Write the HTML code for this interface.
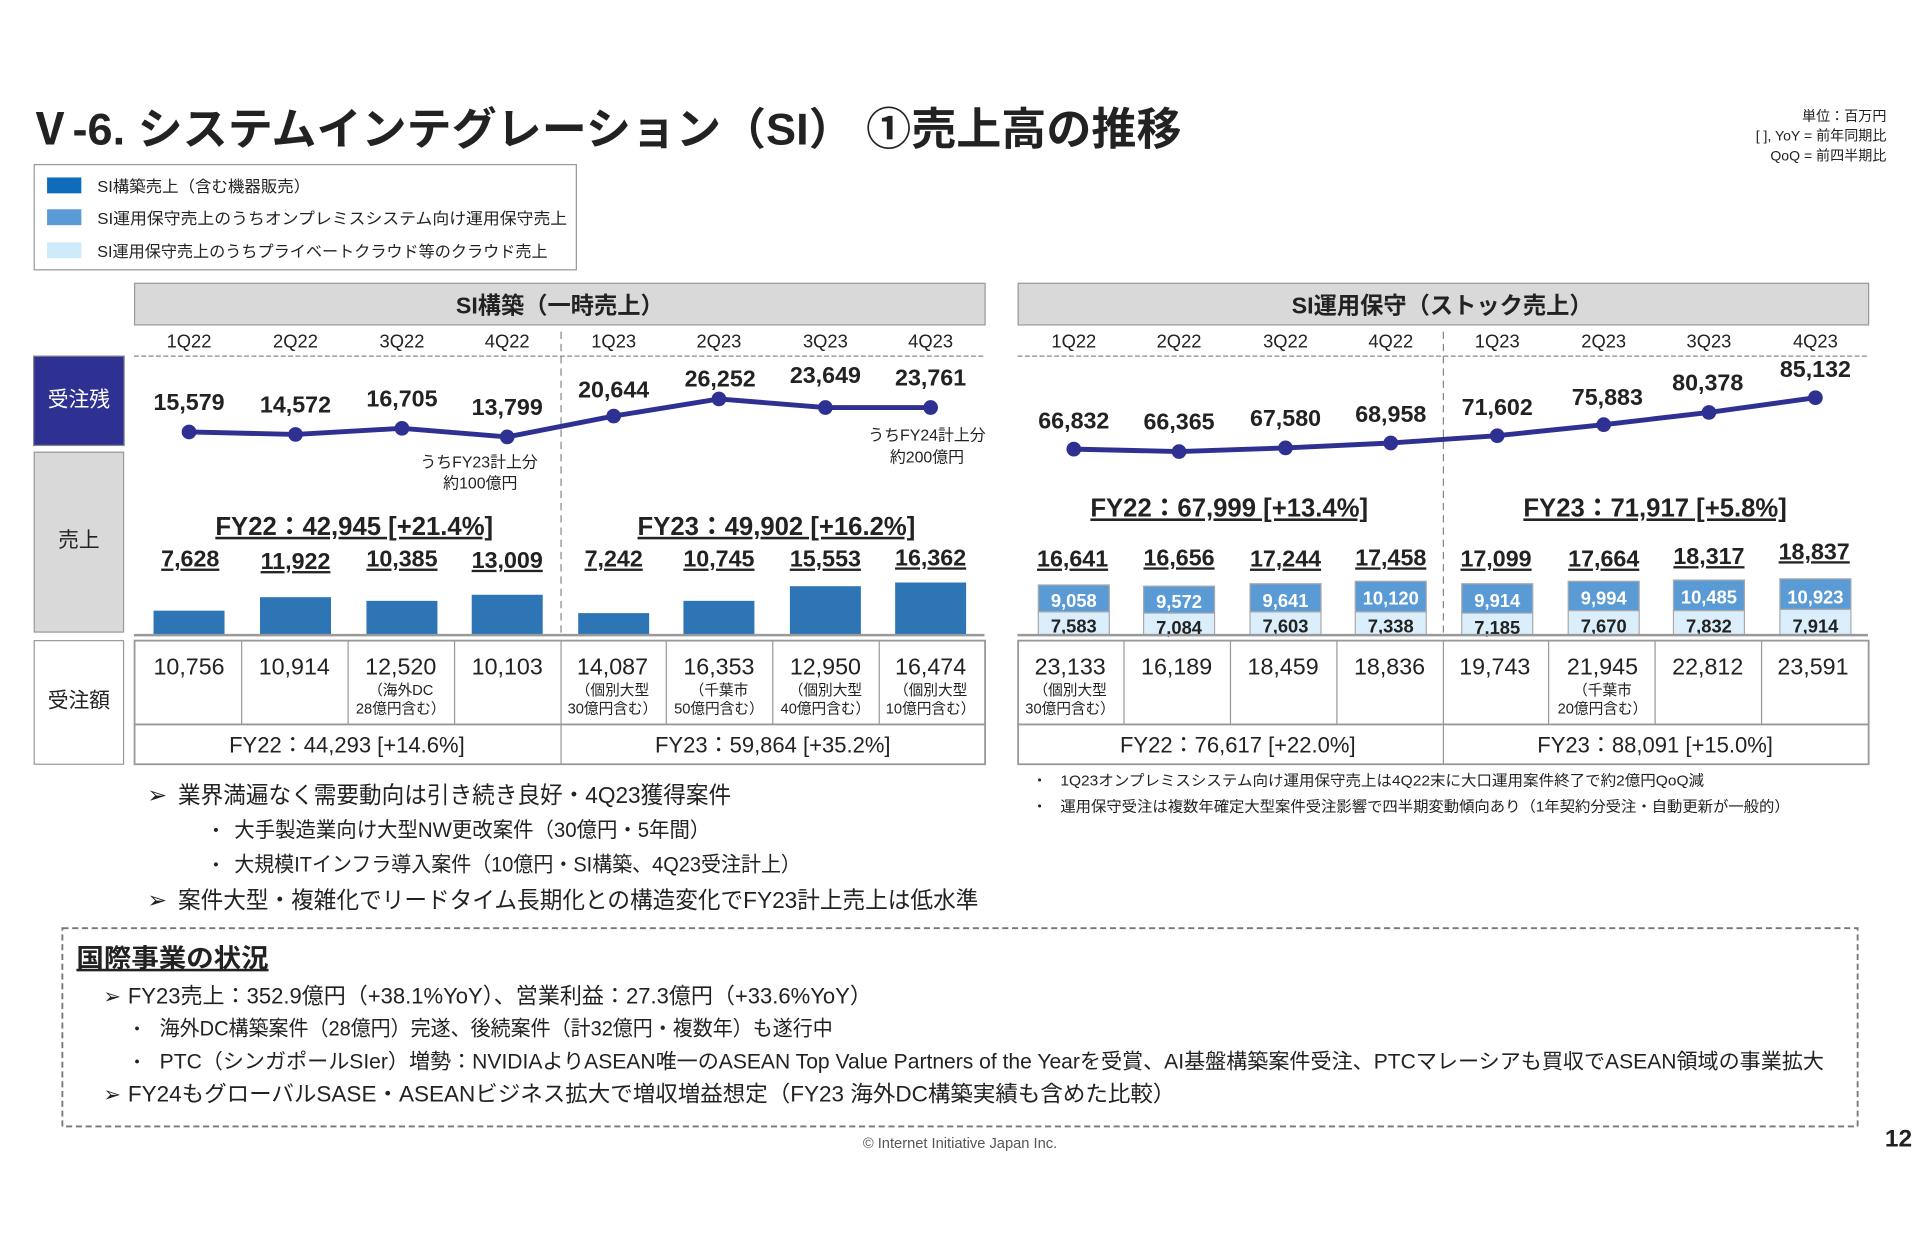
<!DOCTYPE html>
<html><head><meta charset="utf-8"><style>
html,body{margin:0;padding:0;background:#fff;}
svg{display:block;}
text{font-family:"Liberation Sans","Noto Sans CJK JP",sans-serif;fill:#222;}
.b{font-weight:bold;}
.c{text-anchor:middle;}
.r{text-anchor:end;}
</style></head><body>
<svg width="1920" height="1236" viewBox="0 0 1568 1010" xmlns="http://www.w3.org/2000/svg">
<rect width="1568" height="1010" fill="#fff"/>
<!-- title -->
<text x="22" y="118" font-size="36" class="b" textLength="943" lengthAdjust="spacingAndGlyphs">Ⅴ‑6.  システムインテグレーション（SI） ①売上高の推移</text>
<text x="1541" y="99" font-size="11.5" class="r">単位：百万円</text>
<text x="1541" y="115" font-size="11.5" class="r">[ ], YoY = 前年同期比</text>
<text x="1541" y="131" font-size="11.5" class="r">QoQ = 前四半期比</text>
<!-- legend -->
<rect x="27.5" y="134.5" width="443" height="86" fill="#fff" stroke="#999"/>
<rect x="38" y="145" width="28" height="13" fill="#0f6cbd"/>
<rect x="38" y="171" width="28" height="13" fill="#5b9bd5"/>
<rect x="38" y="198" width="28" height="13" fill="#cfeafb"/>
<text x="79" y="157" font-size="13" textLength="174" lengthAdjust="spacingAndGlyphs">SI構築売上（含む機器販売）</text>
<text x="79" y="183" font-size="13" textLength="384" lengthAdjust="spacingAndGlyphs">SI運用保守売上のうちオンプレミスシステム向け運用保守売上</text>
<text x="79" y="210" font-size="13" textLength="368" lengthAdjust="spacingAndGlyphs">SI運用保守売上のうちプライベートクラウド等のクラウド売上</text>
<!-- side labels -->
<rect x="27" y="291" width="74" height="73" fill="#2e3192" stroke="#888"/>
<text x="64" y="332" font-size="17" class="c" style="fill:#fff">受注残</text>
<rect x="27.5" y="369.5" width="73" height="147" fill="#d9d9d9" stroke="#999"/>
<text x="64" y="447" font-size="17" class="c">売上</text>
<rect x="27.5" y="523.5" width="73" height="101" fill="#fff" stroke="#999"/>
<text x="64" y="578" font-size="17" class="c">受注額</text>

<!-- LEFT PANEL -->
<rect x="109.5" y="231.5" width="695" height="34" fill="#d9d9d9" stroke="#999"/>
<text x="457" y="256" font-size="19" class="c b">SI構築（一時売上）</text>
<g font-size="15" class="c">
<text x="154" y="284" class="c">1Q22</text><text x="241" y="284" class="c">2Q22</text><text x="328" y="284" class="c">3Q22</text><text x="414" y="284" class="c">4Q22</text>
<text x="501" y="284" class="c">1Q23</text><text x="587" y="284" class="c">2Q23</text><text x="674" y="284" class="c">3Q23</text><text x="760" y="284" class="c">4Q23</text>
</g>
<line x1="109" y1="291" x2="804" y2="291" stroke="#888" stroke-dasharray="4,2"/>
<line x1="458" y1="271" x2="458" y2="520" stroke="#888" stroke-dasharray="6,4"/>
<polyline points="154,353 241,355 328,350 414,357 501,340 587,326 674,333 760,333" fill="none" stroke="#2e3192" stroke-width="4"/>
<g fill="#2e3192"><circle cx="154" cy="353" r="6"/><circle cx="241" cy="355" r="6"/><circle cx="328" cy="350" r="6"/><circle cx="414" cy="357" r="6"/><circle cx="501" cy="340" r="6"/><circle cx="587" cy="326" r="6"/><circle cx="674" cy="333" r="6"/><circle cx="760" cy="333" r="6"/></g>
<g font-size="19" class="b">
<text x="154" y="335" class="c b">15,579</text><text x="241" y="337" class="c b">14,572</text><text x="328" y="332" class="c b">16,705</text><text x="414" y="339" class="c b">13,799</text>
<text x="501" y="325" class="c b">20,644</text><text x="588" y="316" class="c b">26,252</text><text x="674" y="313" class="c b">23,649</text><text x="760" y="315" class="c b">23,761</text>
</g>
<text x="391" y="382" font-size="13" class="c">うちFY23計上分</text>
<text x="392" y="399" font-size="13" class="c">約100億円</text>
<text x="757" y="360" font-size="13" class="c">うちFY24計上分</text>
<text x="757" y="378" font-size="13" class="c">約200億円</text>
<text x="289" y="437" font-size="21" class="c b" text-decoration="underline">FY22：42,945 [+21.4%]</text>
<text x="634" y="437" font-size="21" class="c b" text-decoration="underline">FY23：49,902 [+16.2%]</text>
<g font-size="19">
<text x="155" y="463" class="c b" text-decoration="underline">7,628</text><text x="241" y="465" class="c b" text-decoration="underline">11,922</text><text x="328" y="463" class="c b" text-decoration="underline">10,385</text><text x="414" y="464" class="c b" text-decoration="underline">13,009</text>
<text x="501" y="463" class="c b" text-decoration="underline">7,242</text><text x="587" y="463" class="c b" text-decoration="underline">10,745</text><text x="674" y="463" class="c b" text-decoration="underline">15,553</text><text x="760" y="462" class="c b" text-decoration="underline">16,362</text>
</g>
<g fill="#2e75b6">
<rect x="125" y="499" width="58" height="20"/><rect x="212" y="488" width="58" height="31"/><rect x="299" y="491" width="58" height="28"/><rect x="385" y="486" width="58" height="33"/>
<rect x="472" y="501" width="58" height="18"/><rect x="558" y="491" width="58" height="28"/><rect x="645" y="479" width="58" height="40"/><rect x="731" y="476" width="58" height="43"/>
</g>
<line x1="109" y1="519" x2="804" y2="519" stroke="#999" stroke-width="2"/>
<!-- left table -->
<rect x="109.5" y="523.5" width="695" height="101" fill="none" stroke="#999" stroke-width="1.5"/>
<line x1="109" y1="592" x2="804" y2="592" stroke="#999" stroke-width="1.5"/>
<g stroke="#999"><line x1="197" y1="523" x2="197" y2="592"/><line x1="284" y1="523" x2="284" y2="592"/><line x1="371" y1="523" x2="371" y2="592"/><line x1="458" y1="523" x2="458" y2="625"/><line x1="544" y1="523" x2="544" y2="592"/><line x1="631" y1="523" x2="631" y2="592"/><line x1="718" y1="523" x2="718" y2="592"/></g>
<g font-size="19">
<text x="154" y="551" class="c">10,756</text><text x="240" y="551" class="c">10,914</text><text x="327" y="551" class="c">12,520</text><text x="414" y="551" class="c">10,103</text>
<text x="500" y="551" class="c">14,087</text><text x="587" y="551" class="c">16,353</text><text x="674" y="551" class="c">12,950</text><text x="760" y="551" class="c">16,474</text>
</g>
<g font-size="12">
<text x="327" y="568" class="c">（海外DC</text><text x="327" y="583" class="c">28億円含む）</text>
<text x="500" y="568" class="c">（個別大型</text><text x="500" y="583" class="c">30億円含む）</text>
<text x="587" y="568" class="c">（千葉市</text><text x="587" y="583" class="c">50億円含む）</text>
<text x="674" y="568" class="c">（個別大型</text><text x="674" y="583" class="c">40億円含む）</text>
<text x="760" y="568" class="c">（個別大型</text><text x="760" y="583" class="c">10億円含む）</text>
</g>
<text x="283" y="615" font-size="18" class="c">FY22：44,293 [+14.6%]</text>
<text x="631" y="615" font-size="18" class="c">FY23：59,864 [+35.2%]</text>

<!-- RIGHT PANEL -->
<rect x="831.5" y="231.5" width="695" height="34" fill="#d9d9d9" stroke="#999"/>
<text x="1178" y="256" font-size="19" class="c b">SI運用保守（ストック売上）</text>
<g font-size="15">
<text x="877" y="284" class="c">1Q22</text><text x="963" y="284" class="c">2Q22</text><text x="1050" y="284" class="c">3Q22</text><text x="1136" y="284" class="c">4Q22</text>
<text x="1223" y="284" class="c">1Q23</text><text x="1310" y="284" class="c">2Q23</text><text x="1396" y="284" class="c">3Q23</text><text x="1483" y="284" class="c">4Q23</text>
</g>
<line x1="831" y1="291" x2="1526" y2="291" stroke="#888" stroke-dasharray="4,2"/>
<line x1="1179" y1="271" x2="1179" y2="520" stroke="#888" stroke-dasharray="6,4"/>
<polyline points="877,367 963,369 1050,366 1136,362 1223,356 1310,347 1396,337 1483,325" fill="none" stroke="#2e3192" stroke-width="4"/>
<g fill="#2e3192"><circle cx="877" cy="367" r="6"/><circle cx="963" cy="369" r="6"/><circle cx="1050" cy="366" r="6"/><circle cx="1136" cy="362" r="6"/><circle cx="1223" cy="356" r="6"/><circle cx="1310" cy="347" r="6"/><circle cx="1396" cy="337" r="6"/><circle cx="1483" cy="325" r="6"/></g>
<g font-size="19">
<text x="877" y="350" class="c b">66,832</text><text x="963" y="351" class="c b">66,365</text><text x="1050" y="348" class="c b">67,580</text><text x="1136" y="345" class="c b">68,958</text>
<text x="1223" y="339" class="c b">71,602</text><text x="1313" y="331" class="c b">75,883</text><text x="1395" y="319" class="c b">80,378</text><text x="1483" y="308" class="c b">85,132</text>
</g>
<text x="1004" y="422" font-size="21" class="c b" text-decoration="underline">FY22：67,999 [+13.4%]</text>
<text x="1352" y="422" font-size="21" class="c b" text-decoration="underline">FY23：71,917 [+5.8%]</text>
<g font-size="19">
<text x="876" y="463" class="c b" text-decoration="underline">16,641</text><text x="963" y="462" class="c b" text-decoration="underline">16,656</text><text x="1050" y="463" class="c b" text-decoration="underline">17,244</text><text x="1136" y="462" class="c b" text-decoration="underline">17,458</text>
<text x="1222" y="463" class="c b" text-decoration="underline">17,099</text><text x="1310" y="463" class="c b" text-decoration="underline">17,664</text><text x="1396" y="461" class="c b" text-decoration="underline">18,317</text><text x="1482" y="457" class="c b" text-decoration="underline">18,837</text>
</g>
<g stroke="#aaa" stroke-width="1">
<rect x="848" y="478" width="58" height="22" fill="#5b9bd5"/><rect x="848" y="500" width="58" height="19" fill="#dbeefb"/>
<rect x="934" y="479" width="58" height="22" fill="#5b9bd5"/><rect x="934" y="501" width="58" height="18" fill="#dbeefb"/>
<rect x="1021" y="477" width="58" height="23" fill="#5b9bd5"/><rect x="1021" y="500" width="58" height="19" fill="#dbeefb"/>
<rect x="1107" y="475" width="58" height="25" fill="#5b9bd5"/><rect x="1107" y="500" width="58" height="19" fill="#dbeefb"/>
<rect x="1194" y="477" width="58" height="24" fill="#5b9bd5"/><rect x="1194" y="501" width="58" height="18" fill="#dbeefb"/>
<rect x="1281" y="475" width="58" height="24" fill="#5b9bd5"/><rect x="1281" y="499" width="58" height="20" fill="#dbeefb"/>
<rect x="1367" y="474" width="58" height="25" fill="#5b9bd5"/><rect x="1367" y="499" width="58" height="20" fill="#dbeefb"/>
<rect x="1454" y="473" width="58" height="25" fill="#5b9bd5"/><rect x="1454" y="498" width="58" height="21" fill="#dbeefb"/>
</g>
<g font-size="15" style="font-weight:bold">
<text x="877" y="496" class="c b" style="fill:#fff">9,058</text><text x="963" y="497" class="c b" style="fill:#fff">9,572</text><text x="1050" y="496" class="c b" style="fill:#fff">9,641</text><text x="1136" y="494" class="c b" style="fill:#fff">10,120</text>
<text x="1223" y="496" class="c b" style="fill:#fff">9,914</text><text x="1310" y="494" class="c b" style="fill:#fff">9,994</text><text x="1396" y="493" class="c b" style="fill:#fff">10,485</text><text x="1483" y="493" class="c b" style="fill:#fff">10,923</text>
<text x="877" y="517" class="c b">7,583</text><text x="963" y="518" class="c b">7,084</text><text x="1050" y="517" class="c b">7,603</text><text x="1136" y="517" class="c b">7,338</text>
<text x="1223" y="518" class="c b">7,185</text><text x="1310" y="517" class="c b">7,670</text><text x="1396" y="517" class="c b">7,832</text><text x="1483" y="517" class="c b">7,914</text>
</g>
<line x1="831" y1="519" x2="1526" y2="519" stroke="#999" stroke-width="2"/>
<!-- right table -->
<rect x="831.5" y="523.5" width="695" height="101" fill="none" stroke="#999" stroke-width="1.5"/>
<line x1="831" y1="592" x2="1526" y2="592" stroke="#999" stroke-width="1.5"/>
<g stroke="#999"><line x1="918" y1="523" x2="918" y2="592"/><line x1="1005" y1="523" x2="1005" y2="592"/><line x1="1092" y1="523" x2="1092" y2="592"/><line x1="1179" y1="523" x2="1179" y2="625"/><line x1="1265" y1="523" x2="1265" y2="592"/><line x1="1352" y1="523" x2="1352" y2="592"/><line x1="1439" y1="523" x2="1439" y2="592"/></g>
<g font-size="19">
<text x="874" y="551" class="c">23,133</text><text x="961" y="551" class="c">16,189</text><text x="1048" y="551" class="c">18,459</text><text x="1135" y="551" class="c">18,836</text>
<text x="1221" y="551" class="c">19,743</text><text x="1309" y="551" class="c">21,945</text><text x="1395" y="551" class="c">22,812</text><text x="1481" y="551" class="c">23,591</text>
</g>
<g font-size="12">
<text x="874" y="568" class="c">（個別大型</text><text x="874" y="583" class="c">30億円含む）</text>
<text x="1309" y="568" class="c">（千葉市</text><text x="1309" y="583" class="c">20億円含む）</text>
</g>
<text x="1011" y="615" font-size="18" class="c">FY22：76,617 [+22.0%]</text>
<text x="1352" y="615" font-size="18" class="c">FY23：88,091 [+15.0%]</text>
<text x="843" y="642" font-size="12">・</text>
<text x="866" y="642" font-size="12" textLength="526" lengthAdjust="spacingAndGlyphs">1Q23オンプレミスシステム向け運用保守売上は4Q22末に大口運用案件終了で約2億円QoQ減</text>
<text x="843" y="663" font-size="12">・</text>
<text x="866" y="663" font-size="12" textLength="596" lengthAdjust="spacingAndGlyphs">運用保守受注は複数年確定大型案件受注影響で四半期変動傾向あり（1年契約分受注・自動更新が一般的）</text>

<!-- left bullets -->
<text x="120" y="656" font-size="19">➢</text>
<text x="145" y="656" font-size="19" textLength="452" lengthAdjust="spacingAndGlyphs">業界満遍なく需要動向は引き続き良好・4Q23獲得案件</text>
<text x="168" y="684" font-size="16">・</text>
<text x="191" y="684" font-size="17" textLength="389" lengthAdjust="spacingAndGlyphs">大手製造業向け大型NW更改案件（30億円・5年間）</text>
<text x="168" y="712" font-size="16">・</text>
<text x="191" y="712" font-size="17" textLength="463" lengthAdjust="spacingAndGlyphs">大規模ITインフラ導入案件（10億円・SI構築、4Q23受注計上）</text>
<text x="120" y="742" font-size="19">➢</text>
<text x="145" y="742" font-size="19" textLength="654" lengthAdjust="spacingAndGlyphs">案件大型・複雑化でリードタイム長期化との構造変化でFY23計上売上は低水準</text>

<!-- international box -->
<rect x="50.5" y="758.5" width="1467" height="162" fill="none" stroke="#777" stroke-width="1.5" stroke-dasharray="5,3"/>
<text x="62" y="790" font-size="21" class="b" text-decoration="underline" textLength="157" lengthAdjust="spacingAndGlyphs">国際事業の状況</text>
<text x="84" y="820" font-size="17">➢</text>
<text x="104" y="820" font-size="18" textLength="608" lengthAdjust="spacingAndGlyphs">FY23売上：352.9億円（+38.1%YoY）、営業利益：27.3億円（+33.6%YoY）</text>
<text x="104" y="846" font-size="15">・</text>
<text x="130" y="846" font-size="17" textLength="550" lengthAdjust="spacingAndGlyphs">海外DC構築案件（28億円）完遂、後続案件（計32億円・複数年）も遂行中</text>
<text x="104" y="873" font-size="15">・</text>
<text x="130" y="873" font-size="17" textLength="1360" lengthAdjust="spacingAndGlyphs">PTC（シンガポールSIer）増勢：NVIDIAよりASEAN唯一のASEAN Top Value Partners of the Yearを受賞、AI基盤構築案件受注、PTCマレーシアも買収でASEAN領域の事業拡大</text>
<text x="84" y="900" font-size="17">➢</text>
<text x="104" y="900" font-size="18" textLength="856" lengthAdjust="spacingAndGlyphs">FY24もグローバルSASE・ASEANビジネス拡大で増収増益想定（FY23 海外DC構築実績も含めた比較）</text>

<text x="784" y="938" font-size="12" class="c" style="fill:#555">© Internet Initiative Japan Inc.</text>
<text x="1562" y="937" font-size="20" class="r b">12</text>
</svg>
</body></html>
